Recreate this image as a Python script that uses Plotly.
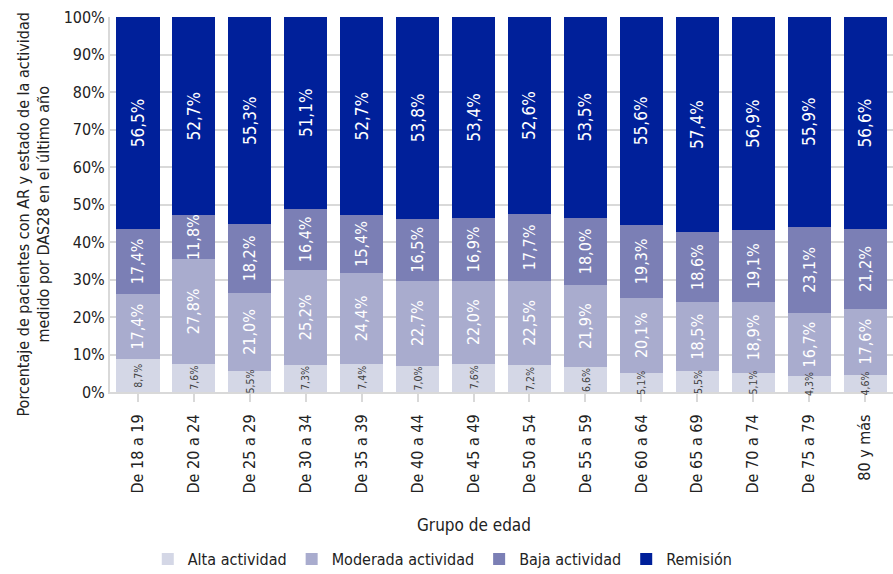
import plotly.graph_objects as go

categorias = ["De 18 a 19", "De 20 a 24", "De 25 a 29", "De 30 a 34", "De 35 a 39",
              "De 40 a 44", "De 45 a 49", "De 50 a 54", "De 55 a 59", "De 60 a 64",
              "De 65 a 69", "De 70 a 74", "De 75 a 79", "80 y más"]
alta = [8.7, 7.6, 5.5, 7.3, 7.4, 7.0, 7.6, 7.2, 6.6, 5.1, 5.5, 5.1, 4.3, 4.6]
moderada = [17.4, 27.8, 21.0, 25.2, 24.4, 22.7, 22.0, 22.5, 21.9, 20.1, 18.5, 18.9, 16.7, 17.6]
baja = [17.4, 11.8, 18.2, 16.4, 15.4, 16.5, 16.9, 17.7, 18.0, 19.3, 18.6, 19.1, 23.1, 21.2]
remision = [56.5, 52.7, 55.3, 51.1, 52.7, 53.8, 53.4, 52.6, 53.5, 55.6, 57.4, 56.9, 55.9, 56.6]
y_ticks = [0, 10, 20, 30, 40, 50, 60, 70, 80, 90, 100]
y_ticktext = [f"{t}%" for t in y_ticks]

FONT = "DejaVu Sans Condensed, Liberation Sans Narrow, Roboto, sans-serif"

def fmt(vals):
    return [f"{v:.1f}%".replace(".", ",") for v in vals]

series = [
    ("Alta actividad", alta, "#d4d7e6", None, 0),
    ("Moderada actividad", moderada, "#a9acce", "white", 16),
    ("Baja actividad", baja, "#7b7fb5", "white", 16),
    ("Remisión", remision, "#00209a", "white", 17),
]

fig = go.Figure()
for name, vals, color, tcolor, tsize in series:
    kw = {}
    if tcolor is not None:
        kw = dict(text=fmt(vals), textposition="inside", insidetextanchor="middle",
                  textangle=-90, textfont=dict(color=tcolor, size=tsize, family=FONT),
                  constraintext="none")
    else:
        kw = dict(textposition="none")
    fig.add_trace(go.Bar(
        name=name, x=categorias, y=vals, marker=dict(color=color, line=dict(width=0)),
        hoverinfo="skip", **kw,
    ))

# Alta actividad labels (allowed to overflow the small segment, as in the original)
for cat, v, t in zip(categorias, alta, fmt(alta)):
    fig.add_annotation(x=cat, y=v / 2, xref="x", yref="y", text=t, textangle=-90,
                       showarrow=False, font=dict(size=10.5, color="#404040", family=FONT))

# axis titles
fig.add_annotation(x=0, y=0.5, xref="paper", yref="paper", xanchor="center", yanchor="middle",
                   xshift=-77, yshift=-10, textangle=-90, showarrow=False,
                   text="Porcentaje de pacientes con AR y estado de la actividad<br>medido por DAS28 en el último año",
                   font=dict(size=16, color="#222", family=FONT))
fig.add_annotation(x=0.465, y=-0.355, xref="paper", yref="paper", xanchor="center", yanchor="middle",
                   showarrow=False, text="Grupo de edad",
                   font=dict(size=17, color="#222", family=FONT))

fig.update_layout(
    barmode="stack", bargap=0.23,
    width=893, height=574,
    margin=dict(l=110, r=0, t=17, b=182, autoexpand=False),
    plot_bgcolor="white", paper_bgcolor="white",
    font=dict(family=FONT, size=16, color="#222"),
    legend=dict(orientation="h", x=0.425, xanchor="center", y=-0.40, yanchor="top",
                font=dict(size=16, family=FONT), traceorder="normal",
                itemwidth=30, tracegroupgap=0),
    xaxis=dict(
        automargin=False,
        tickangle=-90, tickfont=dict(size=16, family=FONT),
        showline=True, linecolor="#d9d9d9", linewidth=2,
        ticks="outside", ticklen=8, tickcolor="#d9d9d9", tickwidth=2,
        ticklabelstandoff=6,
    ),
    yaxis=dict(
        automargin=False,
        range=[0, 100], tickmode="array", tickvals=y_ticks, ticktext=y_ticktext,
        tickfont=dict(size=16, family=FONT),
        showgrid=True, gridcolor="#d9d9d9", gridwidth=2,
        showline=True, linecolor="#d9d9d9", linewidth=2,
        zeroline=False,
    ),
)

fig.write_html("out.html")
